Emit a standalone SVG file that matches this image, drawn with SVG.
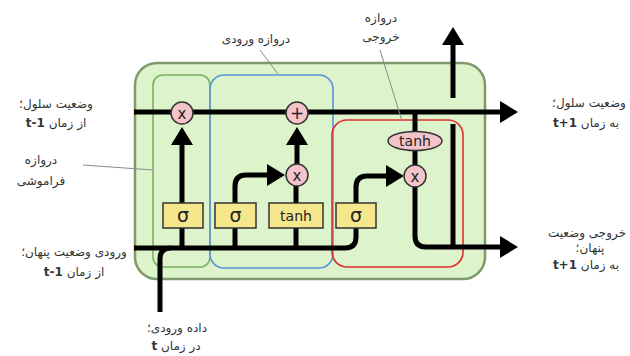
<svg xmlns="http://www.w3.org/2000/svg" width="630" height="356" viewBox="0 0 630 356">
  <style>
    .lbl { font-family: "DejaVu Sans", "Noto Sans", sans-serif; font-size: 12px; fill: #333; text-anchor: middle; direction: rtl; }
    .b { font-weight: bold; }
    .leader { stroke: #8a8a8a; stroke-width: 1; fill: none; }
    .wire { stroke: #000; stroke-width: 5; fill: none; stroke-linecap: butt; }
    .arrow { marker-end: url(#ah); }
    .gate { fill: none; stroke-width: 1.6; }
    .op { fill: #f4c4cb; stroke: #333; stroke-width: 1.5; }
    .layer { fill: #f6e68c; stroke: #333; stroke-width: 1.5; }
    .sym { font-family: "DejaVu Sans", sans-serif; fill: #222; text-anchor: middle; }
  </style>
  <defs>
    <marker id="ah" viewBox="0 0 18 22" markerWidth="18" markerHeight="22" refX="0" refY="11" orient="auto" markerUnits="userSpaceOnUse">
      <path d="M0,0 L18,11 L0,22 Z" fill="#000"/>
    </marker>
  </defs>

  <!-- LSTM cell body -->
  <g id="cell">
    <rect x="135" y="63" width="350" height="216" rx="22" fill="#ddf3cc" stroke="#7f9a6a" stroke-width="2.5"/>
  </g>

  <!-- gate outlines -->
  <g id="forget-gate">
    <rect class="gate" x="153" y="75" width="57" height="192" rx="10" stroke="#7ab35e"/>
  </g>
  <g id="input-gate">
    <rect class="gate" x="210" y="75" width="123" height="193" rx="14" stroke="#5b95d6"/>
  </g>
  <g id="output-gate">
    <rect class="gate" x="332" y="120" width="131" height="147" rx="15" stroke="#e0302e"/>
  </g>

  <!-- connectors -->
  <g id="connectors">
    <!-- cell state -->
    <path class="wire arrow" d="M134,112 H500"/>
    <!-- hidden state out, upward -->
    <path class="wire arrow" d="M453,98 V45"/>
    <path class="wire" d="M453,124 V247"/>
    <!-- hidden state out, rightward -->
    <path class="wire arrow" d="M415,186 V236 Q415,247 426,247 H500"/>
    <!-- previous hidden state and input -->
    <path class="wire" d="M134,248 H345 Q356,248 356,237 V228"/>
    <path class="wire" d="M160,312 V259 Q160,248 171,248"/>
    <!-- forget gate -->
    <path class="wire" d="M182,248 V228"/>
    <path class="wire arrow" d="M182,203 V145"/>
    <!-- input gate sigma -->
    <path class="wire" d="M235,248 V228"/>
    <path class="wire arrow" d="M235,203 V186 Q235,175 246,175 H267"/>
    <!-- candidate tanh -->
    <path class="wire" d="M296,248 V228"/>
    <path class="wire" d="M296,203 V186"/>
    <path class="wire arrow" d="M297,164 V145"/>
    <!-- output gate sigma -->
    <path class="wire arrow" d="M356,203 V187 Q356,176 367,176 H386"/>
    <path class="wire" d="M415,165 V150"/>
    <path class="wire" d="M415,132 V112"/>
    <!-- label leaders -->
    <path class="leader" d="M83,165 L153,170"/>
    <path class="leader" d="M260,50 L278,74"/>
    <path class="leader" d="M380,50 L402,121"/>
  </g>

  <!-- pointwise operations -->
  <g id="op-forget">
    <circle class="op" cx="182" cy="113" r="11"/>
    <text class="sym" x="182" y="118.5" font-size="15">x</text>
  </g>
  <g id="op-add">
    <circle class="op" cx="297" cy="113" r="11"/>
    <text class="sym" x="297" y="119" font-size="17">+</text>
  </g>
  <g id="op-input">
    <circle class="op" cx="297" cy="175" r="11"/>
    <text class="sym" x="297" y="180.5" font-size="15">x</text>
  </g>
  <g id="op-output">
    <circle class="op" cx="415" cy="176" r="11"/>
    <text class="sym" x="415" y="181.5" font-size="15">x</text>
  </g>
  <g id="op-tanh">
    <ellipse class="op" cx="415" cy="141" rx="27" ry="9.5"/>
    <text class="sym" x="415" y="146" font-size="14">tanh</text>
  </g>

  <!-- neural network layers -->
  <g id="layer-forget">
    <rect class="layer" x="163" y="203" width="40" height="25"/>
    <text class="sym" x="183" y="222" font-size="19">σ</text>
  </g>
  <g id="layer-input">
    <rect class="layer" x="215" y="203" width="41" height="25"/>
    <text class="sym" x="235.5" y="222" font-size="19">σ</text>
  </g>
  <g id="layer-candidate">
    <rect class="layer" x="269" y="203" width="54" height="25"/>
    <text class="sym" x="296" y="220.5" font-size="14">tanh</text>
  </g>
  <g id="layer-output">
    <rect class="layer" x="336" y="203" width="40" height="25"/>
    <text class="sym" x="356" y="222" font-size="19">σ</text>
  </g>

  <!-- labels -->
  <g id="label-cell-in">
    <text class="lbl" x="56" y="108">وضعیت سلول؛</text>
    <text class="lbl" x="56" y="127">از زمان <tspan class="b">t-1</tspan></text>
  </g>
  <g id="label-forget">
    <text class="lbl" x="41" y="164">دروازه</text>
    <text class="lbl" x="41" y="185">فراموشی</text>
  </g>
  <g id="label-hidden-in">
    <text class="lbl" x="74" y="256">ورودی وضعیت پنهان؛</text>
    <text class="lbl" x="74" y="276">از زمان <tspan class="b">t-1</tspan></text>
  </g>
  <g id="label-input">
    <text class="lbl" x="177" y="332">داده ورودی؛</text>
    <text class="lbl" x="176" y="350">در زمان <tspan class="b">t</tspan></text>
  </g>
  <g id="label-input-gate">
    <text class="lbl" x="256" y="43">دروازه ورودی</text>
  </g>
  <g id="label-output-gate">
    <text class="lbl" x="381" y="22">دروازه</text>
    <text class="lbl" x="381" y="41">خروجی</text>
  </g>
  <g id="label-cell-out">
    <text class="lbl" x="589" y="107">وضعیت سلول؛</text>
    <text class="lbl" x="586" y="127">به زمان <tspan class="b">t+1</tspan></text>
  </g>
  <g id="label-hidden-out">
    <text class="lbl" x="587" y="237">خروجی وضعیت</text>
    <text class="lbl" x="590" y="252">پنهان؛</text>
    <text class="lbl" x="586" y="269">به زمان <tspan class="b">t+1</tspan></text>
  </g>
</svg>
